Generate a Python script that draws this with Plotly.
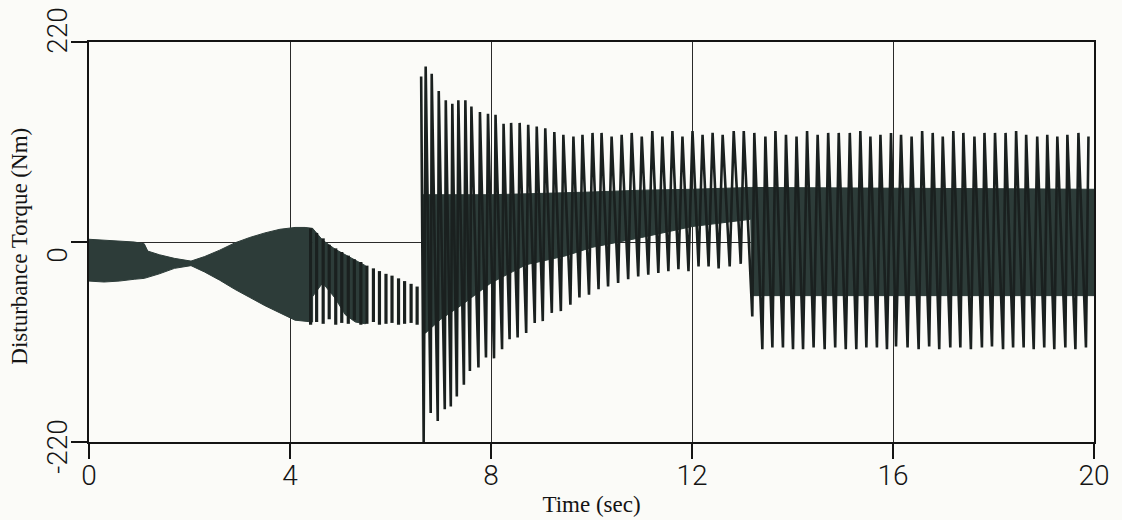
import plotly.graph_objects as go

# ---- time axis / torque axis ticks ----
x_ticks = [0, 4, 8, 12, 16, 20]
x_tick_labels = ["0", "4", "8", "12", "16", "20"]
y_ticks = [-220, 0, 220]
y_tick_labels = ["-220", "0", "220"]

# ---- dense carrier band before the load step (envelope, Nm) ----
early_t = [0.00, 0.30, 0.60, 0.90, 1.10, 1.17, 1.40, 1.70, 2.03, 2.30, 2.60, 2.90,
           3.20, 3.50, 3.80, 4.10, 4.30, 4.45]
early_hi = [3, 2, 1, 0, -2, -10, -14, -18, -21, -16, -9, -1, 5, 10, 14, 16, 16, 15]
early_lo = [-43, -44, -43, -41, -40, -39, -35, -29, -26, -33, -42, -52, -61, -70,
            -78, -86, -87, -88]

# ---- dark core of the beating section ----
core_t = [4.45, 4.65, 4.90, 5.10, 5.30, 5.50]
core_hi = [15, 2, -8, -14, -20, -26]
core_lo = [-60, -45, -62, -80, -88, -90]

# ---- individual oscillation strokes of the beating section ----
beat_t = [4.41, 4.53, 4.66, 4.78, 4.91, 5.03, 5.16, 5.28, 5.41, 5.53, 5.66, 5.78,
          5.91, 6.03, 6.16, 6.28, 6.41, 6.53]
beat_hi = [15, 10, 4, -3, -7, -11, -15, -19, -22, -26, -29, -32, -35, -37, -40,
           -43, -46, -49]
beat_lo = [-91, -88, -90, -85, -91, -89, -90, -86, -91, -90, -88, -91, -90, -89,
           -91, -90, -89, -91]

# ---- dense carrier band after the load step ----
band_t = [6.63, 6.70, 7.00, 7.40, 8.00, 8.70, 9.50, 10.00, 11.00, 12.00, 13.17,
          13.19, 20.00]
band_hi = [52, 52, 52, 52, 52, 53, 54, 55, 57, 58, 60, 60, 58]
band_lo = [-100, -100, -85, -70, -45, -25, -15, -6, 5, 17, 25, -59, -59]

# ---- torque peaks after the load step ----
peak_t = [6.61, 6.70, 6.82, 6.96, 7.10, 7.23, 7.35, 7.49, 7.61, 7.78, 7.94, 8.09,
          8.25, 8.40, 8.57, 8.74, 8.91, 9.08, 9.26, 9.44, 9.64, 9.82, 10.02, 10.20,
          10.40, 10.60, 10.80, 11.00, 11.21, 11.41, 11.61, 11.81, 12.01, 12.21,
          12.41, 12.61, 12.83, 13.03, 13.24, 13.46, 13.66, 13.87, 14.08, 14.29,
          14.50, 14.71, 14.92, 15.14, 15.35, 15.55, 15.75, 15.96, 16.16, 16.37,
          16.58, 16.79, 16.99, 17.20, 17.40, 17.62, 17.82, 18.03, 18.24, 18.45,
          18.65, 18.87, 19.07, 19.27, 19.47, 19.69, 19.89]
peak_v = [182, 193, 185, 166, 156, 152, 156, 156, 149, 143, 141, 140, 130, 131, 131,
          129, 127, 125, 121, 118, 116, 118, 120, 120, 116, 118, 120, 116, 122, 116,
          122, 116, 122, 118, 120, 118, 122, 122, 120, 116, 122, 118, 116, 122, 118,
          120, 120, 120, 122, 116, 118, 120, 118, 116, 122, 120, 116, 122, 120, 116,
          120, 120, 120, 122, 118, 116, 118, 116, 118, 120, 116]

# ---- torque troughs after the load step ----
trough_t = [6.66, 6.80, 6.94, 7.08, 7.20, 7.32, 7.46, 7.58, 7.75, 7.90, 8.06, 8.22,
            8.37, 8.53, 8.70, 8.87, 9.03, 9.21, 9.39, 9.58, 9.76, 9.95, 10.14, 10.33,
            10.53, 10.73, 10.93, 11.13, 11.33, 11.53, 11.73, 11.93, 12.13, 12.33,
            12.53, 12.75, 12.97, 13.20, 13.40, 13.60, 13.81, 14.01, 14.21, 14.42,
            14.64, 14.85, 15.06, 15.27, 15.47, 15.68, 15.88, 16.06, 16.29, 16.51,
            16.72, 16.92, 17.14, 17.34, 17.55, 17.77, 17.97, 18.19, 18.39, 18.60,
            18.80, 19.01, 19.21, 19.43, 19.63, 19.84]
trough_v = [-220, -188, -197, -184, -181, -170, -157, -142, -138, -127, -128, -118,
            -107, -105, -100, -89, -87, -78, -76, -69, -61, -58, -52, -49, -45, -41,
            -38, -36, -34, -32, -30, -32, -27, -27, -29, -27, -24, -82, -118, -116,
            -116, -118, -118, -116, -118, -116, -118, -118, -116, -116, -118, -115,
            -116, -118, -115, -118, -116, -116, -118, -116, -115, -118, -116, -116,
            -118, -116, -118, -116, -118, -116]

BG = "#fbfbf8"
BAND = "#2d3c39"
LINE = "#1a201f"
AX = "#141414"
GRID = "#2a2a2a"
TICK_FONT = dict(family="Roboto, Liberation Sans, sans-serif", size=28, color="#141414", weight=300)
TITLE_FONT = dict(family="Liberation Serif, serif", size=23, color="#141414")

fig = go.Figure()


def band_polygon(t, hi, lo):
    return list(t) + list(reversed(t)), list(hi) + list(reversed(lo))


for t, hi, lo in [(early_t, early_hi, early_lo),
                  (core_t, core_hi, core_lo),
                  (band_t, band_hi, band_lo)]:
    xs, ys = band_polygon(t, hi, lo)
    fig.add_trace(go.Scatter(x=xs, y=ys, mode="lines", fill="toself",
                             fillcolor=BAND, line=dict(color=BAND, width=1),
                             hoverinfo="skip", showlegend=False))

# vertical strokes of the beating section
bx, by = [], []
for t, h, l in zip(beat_t, beat_hi, beat_lo):
    bx += [t, t, None]
    by += [h, l, None]
fig.add_trace(go.Scatter(x=bx, y=by, mode="lines", line=dict(color=LINE, width=3.2),
                         hoverinfo="skip", showlegend=False))

# peak/trough waveform after the load step
pts = sorted(list(zip(peak_t, peak_v)) + list(zip(trough_t, trough_v)))
fig.add_trace(go.Scatter(x=[p[0] for p in pts], y=[p[1] for p in pts], mode="lines",
                         line=dict(color=LINE, width=2.6), showlegend=False))

# rotated torque tick labels
for v, txt, shift in zip(y_ticks, y_tick_labels, [-4, -13, 12]):
    fig.add_annotation(x=-0.032, xref="paper", y=v, yref="y", text=txt,
                       textangle=-90, showarrow=False, xanchor="center",
                       yanchor="middle", yshift=shift, font=TICK_FONT)

fig.add_annotation(x=-0.070, xref="paper", y=0.49, yref="paper",
                   text="Disturbance Torque (Nm)", textangle=-90, showarrow=False,
                   xanchor="center", yanchor="middle", font=TITLE_FONT)

fig.update_layout(width=1122, height=520, margin=dict(l=89, r=28, t=42, b=78),
                  paper_bgcolor=BG, plot_bgcolor=BG, showlegend=False)
fig.update_xaxes(range=[0, 20], tickvals=x_ticks, ticktext=x_tick_labels,
                 ticks="outside", ticklen=15, tickwidth=1.5, tickcolor=AX,
                 showline=True, linecolor=AX, linewidth=1.5, mirror=True,
                 showgrid=True, gridcolor=GRID, gridwidth=1, zeroline=False,
                 tickfont=TICK_FONT, automargin=False, ticklabelstandoff=-7,
                 title=dict(text="Time (sec)", font=TITLE_FONT, standoff=5))
fig.update_yaxes(range=[-220, 220], tickvals=y_ticks, showticklabels=False,
                 ticks="outside", ticklen=16, tickwidth=1.5, tickcolor=AX,
                 showline=True, linecolor=AX, linewidth=1.5, mirror=True,
                 showgrid=True, gridcolor=GRID, gridwidth=1, zeroline=False,
                 automargin=False)

fig.write_html("out.html")
